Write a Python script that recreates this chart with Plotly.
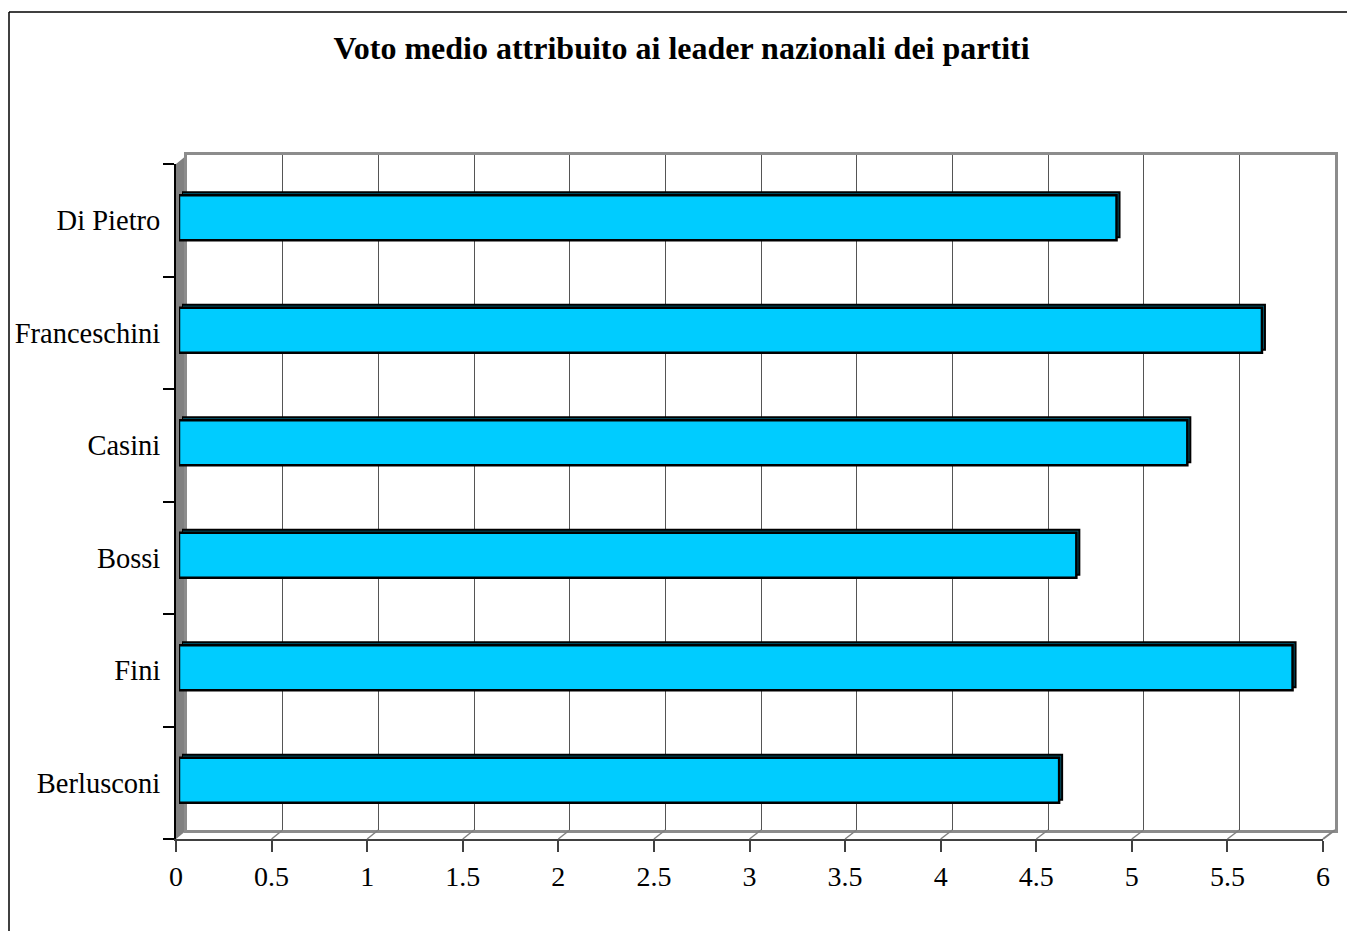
import plotly.graph_objects as go

# ---- data ----
leaders = ["Berlusconi", "Fini", "Bossi", "Casini", "Franceschini", "Di Pietro"]
voto = [4.60, 5.82, 4.69, 5.27, 5.66, 4.90]
x_ticks = [0, 0.5, 1, 1.5, 2, 2.5, 3, 3.5, 4, 4.5, 5, 5.5, 6]
x_ticklabels = ["0", "0.5", "1", "1.5", "2", "2.5", "3", "3.5", "4", "4.5", "5", "5.5", "6"]
title_text = "Voto medio attribuito ai leader nazionali dei partiti"

W, H = 1347, 931
# effective horizontal mapping of the rendered page (measured)
X_OFF, W_EFF = 7.0, 1333.0
FONT = "Liberation Serif"


def px(p):
    return (p - X_OFF) / W_EFF


def py(p):
    return 1 - p / H


def dx(a, b):
    return [px(a), px(b)]


def dy(top, bottom):
    return [py(bottom), py(top)]


# pixel frames (layout geometry)
BACK_X, BACK_Y = (187, 1335), (155, 830)
DEPTH_X, DEPTH_Y = (182, 1330), (158.5, 833.5)
FRONT_X, FRONT_Y = (179, 1327), (161.5, 836.5)
AXIS_X, AXIS_Y = (176, 1323), (164, 839)

fig = go.Figure()

# back wall subplot (gridlines)
fig.add_trace(go.Scatter(x=[None], y=[None], xaxis="x", yaxis="y",
                         showlegend=False, hoverinfo="skip"))
# bar depth (top / side faces)
fig.add_trace(go.Bar(x=voto, y=leaders, orientation="h", xaxis="x2", yaxis="y2",
                     marker=dict(color="#006680", line=dict(color="black", width=2)),
                     showlegend=False, hoverinfo="skip"))
# bar front faces
fig.add_trace(go.Bar(x=voto, y=leaders, orientation="h", xaxis="x3", yaxis="y3",
                     marker=dict(color="#00CCFF", line=dict(color="black", width=2.5)),
                     showlegend=False))
# front axes
fig.add_trace(go.Scatter(x=[None] * len(leaders), y=leaders, xaxis="x4", yaxis="y4",
                         mode="markers", showlegend=False, hoverinfo="skip"))

hidden = dict(showgrid=False, zeroline=False, showticklabels=False, ticks="", showline=False)
cat_common = dict(type="category", categoryorder="array", categoryarray=leaders,
                  range=[-0.5, len(leaders) - 0.5])

layout = dict(
    width=W, height=H, autosize=False,
    margin=dict(l=0, r=0, t=0, b=0),
    paper_bgcolor="white",
    plot_bgcolor="rgba(0,0,0,0)",
    bargap=0.6,
    showlegend=False,
    title=dict(text="<b>" + title_text + "</b>", x=px(681.5), y=py(48),
               xanchor="center", yanchor="middle",
               font=dict(family=FONT, size=32, color="black")),
    xaxis=dict(domain=dx(*BACK_X), range=[0, 6], anchor="y", showgrid=True,
               tickvals=x_ticks, gridcolor="#555555", gridwidth=1, zeroline=False,
               showticklabels=False, ticks="", showline=True, mirror=True,
               linecolor="#8c8c8c", linewidth=3),
    yaxis=dict(domain=dy(*BACK_Y), range=[0, 1], anchor="x", showgrid=False,
               zeroline=False, showticklabels=False, ticks="", showline=True,
               mirror=True, linecolor="#8c8c8c", linewidth=3),
    xaxis2=dict(domain=dx(*DEPTH_X), range=[0, 6], anchor="y2", **hidden),
    yaxis2=dict(domain=dy(*DEPTH_Y), anchor="x2", **cat_common, **hidden),
    xaxis3=dict(domain=dx(*FRONT_X), range=[0, 6], anchor="y3", **hidden),
    yaxis3=dict(domain=dy(*FRONT_Y), anchor="x3", **cat_common, **hidden),
    xaxis4=dict(domain=dx(*AXIS_X), range=[0, 6], anchor="y4", showgrid=False,
                zeroline=False, tickvals=x_ticks, ticktext=x_ticklabels,
                ticks="outside", ticklen=11, tickcolor="#404040", tickwidth=1.5,
                showline=True, linecolor="#404040", linewidth=2,
                tickfont=dict(family=FONT, size=28, color="black")),
    yaxis4=dict(domain=dy(*AXIS_Y), anchor="x4", **cat_common, showgrid=False,
                zeroline=False, ticks="outside", tickson="boundaries", ticklen=11,
                tickcolor="black", tickwidth=1.5, showline=True, linecolor="black",
                linewidth=2, ticklabelstandoff=8,
                tickfont=dict(family=FONT, size=28.5, color="black")),
)
fig.update_layout(**layout)

shapes = []
# left wall
shapes.append(dict(type="path", xref="paper", yref="paper", layer="below",
                   path="M {a},{b} L {a},{c} L {d},{e} L {d},{f} Z".format(
                       a=px(AXIS_X[0]), b=py(AXIS_Y[1]), c=py(AXIS_Y[0]),
                       d=px(BACK_X[0]), e=py(BACK_Y[0]), f=py(BACK_Y[1])),
                   fillcolor="#808080", line=dict(width=0)))
# floor connectors (front tick -> back gridline)
front_scale = (AXIS_X[1] - AXIS_X[0]) / 6
back_scale = (BACK_X[1] - BACK_X[0]) / 6
for v in x_ticks[1:]:
    fx = AXIS_X[0] + v * front_scale
    bx = BACK_X[0] + v * back_scale
    shapes.append(dict(type="line", xref="paper", yref="paper",
                       x0=px(fx), y0=py(AXIS_Y[1]), x1=px(bx), y1=py(BACK_Y[1]),
                       line=dict(color="#808080", width=2 if v == 6 else 1.5)))
# outer frame (left and top edges visible)
shapes.append(dict(type="line", xref="paper", yref="paper",
                   x0=px(9), y0=0, x1=px(9), y1=py(12),
                   line=dict(color="black", width=1.5)))
shapes.append(dict(type="line", xref="paper", yref="paper",
                   x0=px(9), y0=py(12), x1=px(1347), y1=py(12),
                   line=dict(color="black", width=1.5)))
fig.update_layout(shapes=shapes)

fig.write_html("out.html", config={"displayModeBar": False},
               post_script="document.body.style.margin='0';document.body.style.overflow='hidden';")
